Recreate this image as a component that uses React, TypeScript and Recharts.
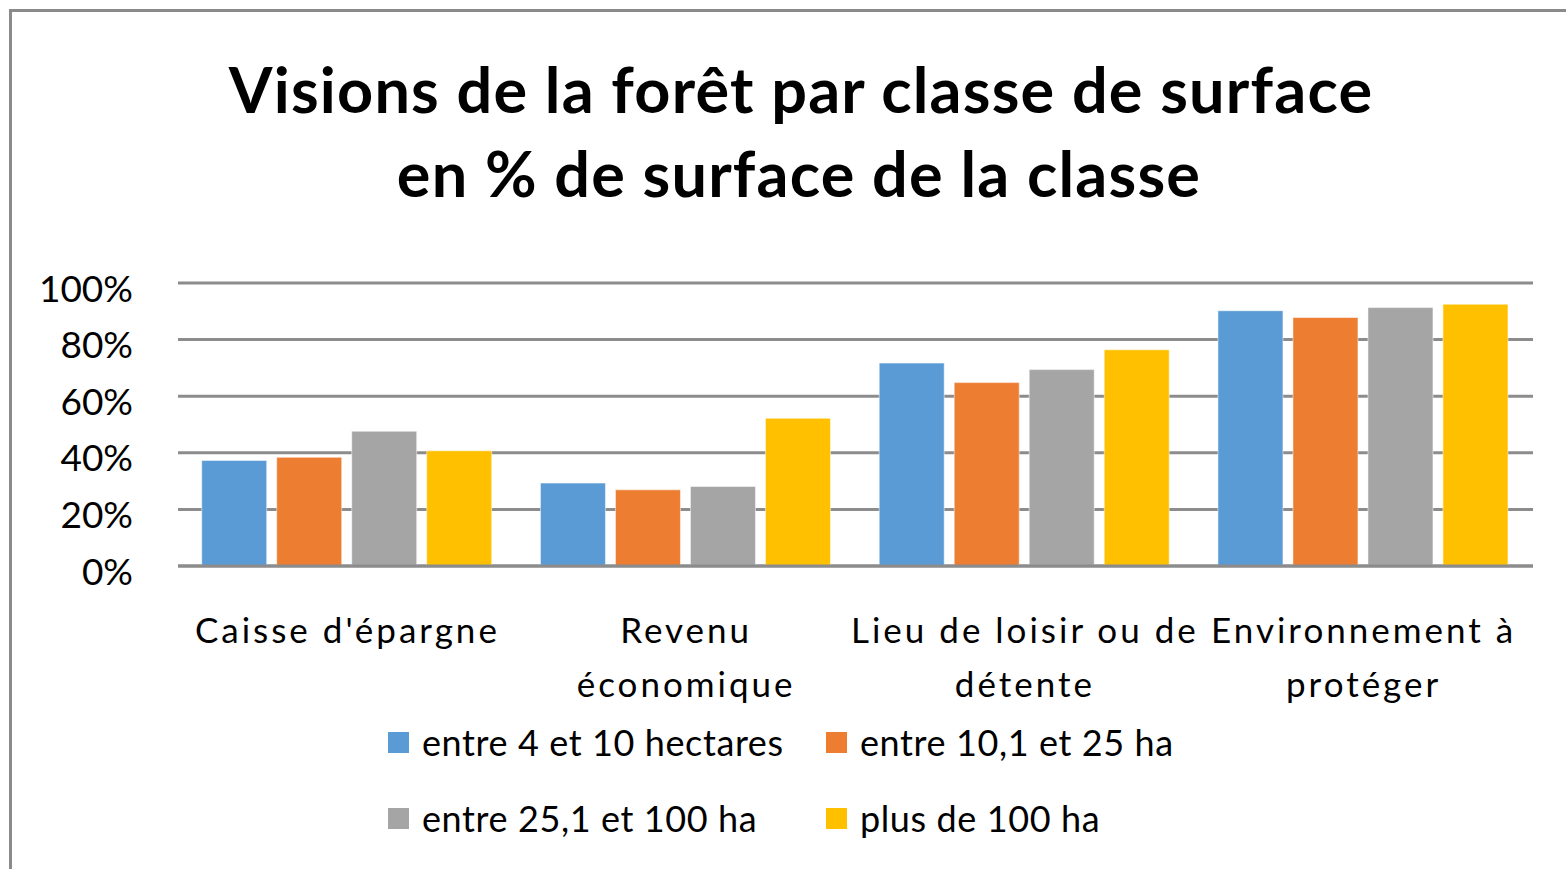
import { BarChart, Bar, XAxis, YAxis, CartesianGrid } from 'recharts';

const categories = [
  "Caisse d'épargne",
  'Revenu économique',
  'Lieu de loisir ou de détente',
  'Environnement à protéger',
];

const categoryLines = [
  ["Caisse d'épargne"],
  ['Revenu', 'économique'],
  ['Lieu de loisir ou de', 'détente'],
  ['Environnement à', 'protéger'],
];

const seriesNames = [
  'entre 4 et 10 hectares',
  'entre 10,1 et 25 ha',
  'entre 25,1 et 100 ha',
  'plus de 100 ha',
];

const s4to10 = [37.3, 29.3, 71.7, 90.2];
const s10to25 = [38.4, 26.9, 64.8, 87.8];
const s25to100 = [47.6, 28.1, 69.4, 91.3];
const sOver100 = [40.7, 52.2, 76.4, 92.5];

const yTicks = [0, 20, 40, 60, 80, 100];

const colors = ['#5B9BD5', '#ED7D31', '#A5A5A5', '#FFC000'];
const keys = ['s1', 's2', 's3', 's4'];

const data = categories.map((name, i) => ({
  name,
  s1: s4to10[i],
  s2: s10to25[i],
  s3: s25to100[i],
  s4: sOver100[i],
}));

const FONT = 'Lato, "Open Sans", sans-serif';

function CategoryTick(props: any) {
  const { x, y, payload } = props;
  const lines = categoryLines[payload.index] || [payload.value];
  return (
    <g>
      {lines.map((line, i) => (
        <text
          key={i}
          x={x}
          y={y + 61 + i * 54}
          textAnchor="middle"
          dominantBaseline="central"
          fontFamily={FONT}
          fontSize={35}
          letterSpacing={3}
          fill="#000"
        >
          {line}
        </text>
      ))}
    </g>
  );
}

function ValueTick(props: any) {
  const { x, y, payload } = props;
  return (
    <text
      x={x}
      y={y + 4}
      textAnchor="end"
      dominantBaseline="central"
      fontFamily={FONT}
      fontSize={37}
      fill="#000"
    >
      {`${payload.value}%`}
    </text>
  );
}

export default function App() {
  return (
    <div
      style={{
        position: 'absolute',
        left: 0,
        top: 0,
        width: 1566,
        height: 869,
        overflow: 'hidden',
        background: '#fff',
      }}
    >
      <div
        style={{
          position: 'absolute',
          left: 9,
          top: 9,
          width: 1600,
          height: 900,
          border: '3px solid #8a8a8a',
        }}
      />
      <svg
        width={1566}
        height={240}
        style={{ position: 'absolute', left: 0, top: 0 }}
      >
        <text
          x={801}
          y={88}
          textAnchor="middle"
          dominantBaseline="central"
          fontFamily={FONT}
          fontWeight={700}
          fontSize={63}
          letterSpacing={1.2}
          fill="#000"
        >
          Visions  de la forêt par classe de surface
        </text>
        <text
          x={799}
          y={172}
          textAnchor="middle"
          dominantBaseline="central"
          fontFamily={FONT}
          fontWeight={700}
          fontSize={63}
          letterSpacing={1.2}
          fill="#000"
        >
          en % de surface  de la classe
        </text>
      </svg>
      <div style={{ position: 'absolute', left: 0, top: 0 }}>
        <BarChart
          width={1566}
          height={869}
          data={data}
          margin={{ top: 283, right: 33, left: 0, bottom: 163 }}
          barCategoryGap="7%"
          barGap={10}
        >
          <CartesianGrid vertical={false} stroke="#8c8c8c" strokeWidth={3} />
          <XAxis
            dataKey="name"
            height={140}
            tickLine={false}
            tickSize={0}
            axisLine={{ stroke: '#8c8c8c', strokeWidth: 3 }}
            tick={<CategoryTick />}
            interval={0}
          />
          <YAxis
            width={178}
            domain={[0, 100]}
            ticks={yTicks}
            axisLine={false}
            tickLine={false}
            tickSize={0}
            tickMargin={45}
            tick={<ValueTick />}
          />
          {keys.map((k, i) => (
            <Bar
              key={k}
              dataKey={k}
              name={seriesNames[i]}
              fill={colors[i]}
              stroke="#ffffff"
              strokeOpacity={0.5}
              isAnimationActive={false}
            />
          ))}
        </BarChart>
      </div>
      <div
        style={{
          position: 'absolute',
          left: 388,
          top: 722,
          width: 900,
          display: 'grid',
          gridTemplateColumns: '438px 438px',
          rowGap: 36,
          fontFamily: FONT,
          fontSize: 36,
          letterSpacing: 0.6,
          color: '#000',
        }}
      >
        {seriesNames.map((n, i) => (
          <div key={n} style={{ display: 'flex', alignItems: 'center', height: 40 }}>
            <span
              style={{
                display: 'inline-block',
                width: 21,
                height: 21,
                background: colors[i],
                marginRight: 13,
              }}
            />
            <span>{n}</span>
          </div>
        ))}
      </div>
    </div>
  );
}
